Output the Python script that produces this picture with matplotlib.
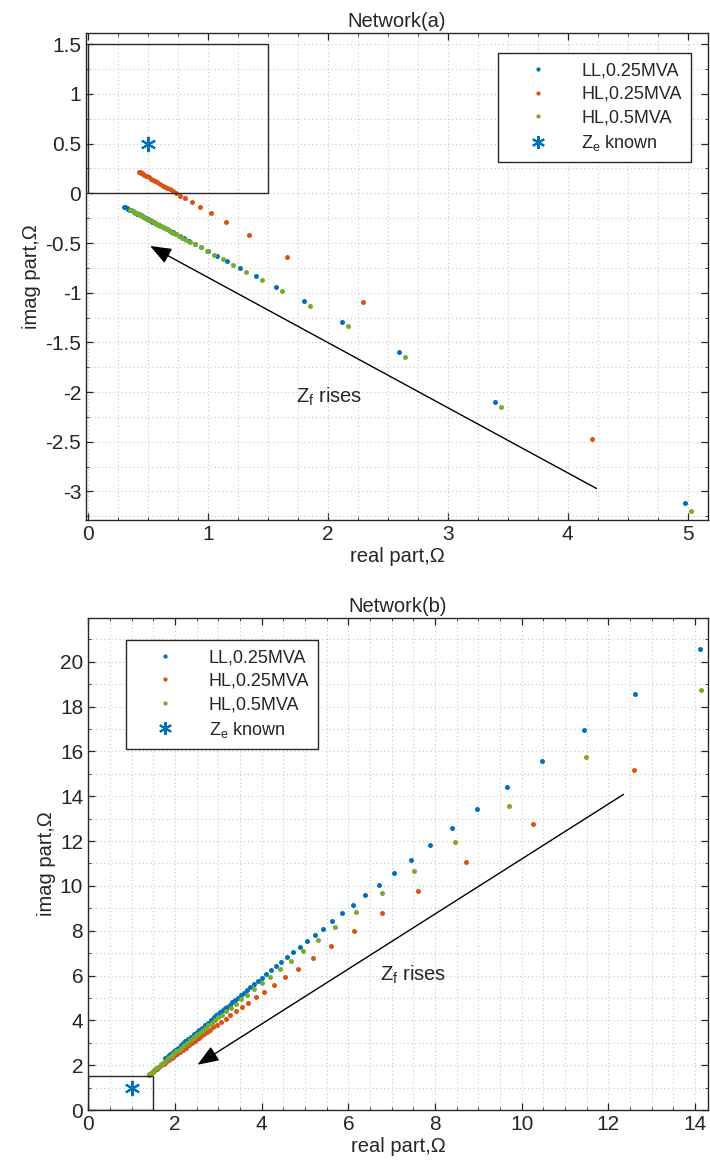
import matplotlib
matplotlib.use("Agg")
import matplotlib.pyplot as plt
from matplotlib.patches import Rectangle, FancyArrowPatch
from matplotlib.ticker import MultipleLocator, FuncFormatter

plt.rcParams['font.family'] = ['Liberation Sans', 'DejaVu Sans']
plt.rcParams['axes.unicode_minus'] = False
plt.rcParams['mathtext.fontset'] = 'custom'
plt.rcParams['mathtext.rm'] = 'Liberation Sans'
plt.rcParams['mathtext.it'] = 'Liberation Sans'

########################################################################################################################
# Network(a) impedance estimates
########################################################################################################################
a_ll25_re = [4.980, 3.390, 2.595, 2.118, 1.800, 1.573, 1.403, 1.270, 1.164, 1.077, 1.005, 0.944, 0.891, 0.846,
             0.806, 0.771, 0.740, 0.712, 0.687, 0.664, 0.644, 0.625, 0.608, 0.592, 0.577, 0.563, 0.551, 0.539,
             0.528, 0.518, 0.508, 0.499, 0.483, 0.468, 0.455, 0.443, 0.427, 0.413, 0.401, 0.387, 0.374, 0.361,
             0.348, 0.336, 0.324, 0.313, 0.304]
a_ll25_im = [-3.113, -2.100, -1.594, -1.290, -1.087, -0.943, -0.834, -0.750, -0.682, -0.627, -0.581, -0.542,
             -0.508, -0.480, -0.454, -0.432, -0.412, -0.394, -0.378, -0.364, -0.351, -0.339, -0.328, -0.318,
             -0.308, -0.300, -0.292, -0.284, -0.277, -0.271, -0.265, -0.259, -0.249, -0.239, -0.231, -0.223,
             -0.213, -0.204, -0.196, -0.188, -0.179, -0.171, -0.163, -0.155, -0.147, -0.140, -0.134]

a_hl25_re = [4.200, 2.295, 1.660, 1.343, 1.152, 1.025, 0.934, 0.866, 0.813, 0.771, 0.736, 0.708, 0.683, 0.662,
             0.644, 0.628, 0.602, 0.581, 0.563, 0.542, 0.526, 0.509, 0.496, 0.483, 0.471, 0.461, 0.450, 0.441,
             0.432, 0.428]
a_hl25_im = [-2.470, -1.090, -0.645, -0.423, -0.289, -0.201, -0.137, -0.089, -0.052, -0.023, 0.002, 0.021,
             0.039, 0.054, 0.066, 0.077, 0.096, 0.110, 0.123, 0.138, 0.149, 0.161, 0.170, 0.179, 0.187, 0.194,
             0.202, 0.208, 0.215, 0.217]

a_hl50_re = [5.030, 3.440, 2.645, 2.168, 1.850, 1.623, 1.453, 1.320, 1.214, 1.127, 1.055, 0.994, 0.941, 0.896,
             0.856, 0.821, 0.790, 0.762, 0.737, 0.714, 0.694, 0.675, 0.658, 0.642, 0.627, 0.613, 0.601, 0.589,
             0.578, 0.568, 0.558, 0.549, 0.533, 0.518, 0.505, 0.493, 0.477, 0.463, 0.451, 0.437, 0.424, 0.411,
             0.398, 0.386, 0.374, 0.363, 0.354]
a_hl50_im = [-3.200, -2.154, -1.642, -1.335, -1.130, -0.984, -0.874, -0.788, -0.720, -0.664, -0.618, -0.578,
             -0.544, -0.515, -0.490, -0.467, -0.447, -0.429, -0.413, -0.398, -0.385, -0.373, -0.362, -0.352,
             -0.342, -0.333, -0.325, -0.318, -0.311, -0.304, -0.298, -0.292, -0.282, -0.272, -0.264, -0.256,
             -0.246, -0.237, -0.229, -0.220, -0.211, -0.203, -0.195, -0.187, -0.179, -0.172, -0.166]

a_ze = [0.5, 0.5]

########################################################################################################################
# Network(b) impedance estimates
########################################################################################################################
b_ll25_re = [14.105, 12.624, 11.440, 10.471, 9.663, 8.980, 8.394, 7.887, 7.443, 7.051, 6.702, 6.391, 6.110,
             5.856, 5.625, 5.415, 5.222, 5.044, 4.880, 4.728, 4.587, 4.456, 4.333, 4.219, 4.111, 4.010, 3.915,
             3.826, 3.741, 3.661, 3.585, 3.513, 3.445, 3.380, 3.318, 3.259, 3.203, 3.149, 3.097, 3.048, 3.001,
             2.956, 2.912, 2.870, 2.830, 2.754, 2.684, 2.618, 2.557, 2.499, 2.446, 2.371, 2.303, 2.240, 2.183,
             2.129, 2.064, 2.005, 1.951, 1.890, 1.835, 1.776]
b_ll25_im = [20.56, 18.57, 16.94, 15.58, 14.42, 13.44, 12.58, 11.83, 11.17, 10.59, 10.06, 9.59, 9.16, 8.77,
             8.42, 8.09, 7.79, 7.52, 7.26, 7.03, 6.81, 6.60, 6.41, 6.23, 6.06, 5.90, 5.75, 5.61, 5.47, 5.35,
             5.22, 5.11, 5.00, 4.90, 4.80, 4.70, 4.61, 4.53, 4.44, 4.37, 4.29, 4.22, 4.15, 4.08, 4.02, 3.89,
             3.78, 3.67, 3.58, 3.48, 3.40, 3.27, 3.16, 3.06, 2.97, 2.88, 2.78, 2.68, 2.59, 2.49, 2.40, 2.30]

b_hl25_re = [12.585, 10.258, 8.707, 7.599, 6.768, 6.121, 5.604, 5.181, 4.828, 4.530, 4.274, 4.053, 3.859,
             3.688, 3.536, 3.399, 3.277, 3.166, 3.065, 2.973, 2.889, 2.812, 2.740, 2.674, 2.612, 2.555, 2.501,
             2.451, 2.404, 2.319, 2.243, 2.175, 2.114, 2.058, 1.984, 1.920, 1.863, 1.796, 1.739, 1.689, 1.634,
             1.588, 1.539, 1.491, 1.445, 1.402]
b_hl25_im = [15.16, 12.78, 11.06, 9.77, 8.77, 7.97, 7.31, 6.77, 6.31, 5.92, 5.58, 5.28, 5.02, 4.79, 4.58,
             4.40, 4.23, 4.08, 3.94, 3.81, 3.69, 3.58, 3.48, 3.39, 3.30, 3.22, 3.15, 3.08, 3.01, 2.89, 2.78,
             2.69, 2.60, 2.52, 2.41, 2.32, 2.24, 2.14, 2.06, 1.99, 1.91, 1.84, 1.77, 1.70, 1.64, 1.57]

b_hl50_re = [14.130, 11.480, 9.713, 8.451, 7.505, 6.769, 6.180, 5.698, 5.297, 4.957, 4.666, 4.413, 4.193,
             3.998, 3.824, 3.669, 3.530, 3.404, 3.289, 3.184, 3.088, 3.000, 2.918, 2.843, 2.773, 2.708, 2.647,
             2.590, 2.536, 2.486, 2.439, 2.394, 2.352, 2.275, 2.205, 2.142, 2.085, 2.032, 1.962, 1.899, 1.844,
             1.778, 1.721, 1.671, 1.616, 1.568, 1.526, 1.482, 1.438, 1.395]
b_hl50_im = [18.73, 15.73, 13.57, 11.94, 10.67, 9.66, 8.84, 8.15, 7.57, 7.08, 6.65, 6.27, 5.94, 5.65, 5.39,
             5.15, 4.94, 4.75, 4.57, 4.41, 4.26, 4.13, 4.00, 3.88, 3.77, 3.67, 3.58, 3.49, 3.40, 3.33, 3.25,
             3.18, 3.11, 2.99, 2.88, 2.78, 2.69, 2.61, 2.50, 2.40, 2.31, 2.20, 2.11, 2.03, 1.94, 1.87, 1.80,
             1.73, 1.66, 1.59]

b_ze = [1.0, 1.0]

labels = ["LL,0.25MVA", "HL,0.25MVA", "HL,0.5MVA", r"Z$_\mathregular{e}$ known"]
c_blue = "#0072BD"
c_orange = "#D95319"
c_green = "#77AC30"
dark = "#262626"

fig = plt.figure(figsize=(7.10, 11.74), dpi=100)


def style_axes(ax, xmaj, xmin, ymaj, ymin):
    ax.xaxis.set_major_locator(MultipleLocator(xmaj))
    ax.xaxis.set_minor_locator(MultipleLocator(xmin))
    ax.yaxis.set_major_locator(MultipleLocator(ymaj))
    ax.yaxis.set_minor_locator(MultipleLocator(ymin))
    fmt = FuncFormatter(lambda v, p: "%g" % round(v, 6))
    ax.xaxis.set_major_formatter(fmt)
    ax.yaxis.set_major_formatter(fmt)
    ax.grid(True, which="both", color="#c8c8c8", linestyle=(0, (1, 2.5)), linewidth=0.8)
    ax.set_axisbelow(True)
    ax.tick_params(which="both", direction="in", top=True, right=True, colors=dark, labelsize=15)
    ax.tick_params(which="major", length=5, width=0.9)
    ax.tick_params(which="minor", length=2, width=0.6)
    for s in ax.spines.values():
        s.set_color(dark)
        s.set_linewidth(1.0)
    ax.set_xlabel("real part,\u03A9", fontsize=14.5, color=dark, labelpad=2)
    ax.set_ylabel("imag part,\u03A9", fontsize=14.5, color=dark, labelpad=3)


def draw_series(ax, ll_re, ll_im, hl25_re, hl25_im, hl50_re, hl50_im, ze):
    h1, = ax.plot(ll_re, ll_im, linestyle="none", marker="o", ms=3.6, mew=0, color=c_blue)
    h2, = ax.plot(hl25_re, hl25_im, linestyle="none", marker="o", ms=3.6, mew=0, color=c_orange)
    h3, = ax.plot(hl50_re, hl50_im, linestyle="none", marker="o", ms=3.6, mew=0, color=c_green)
    h4, = ax.plot(ze[0], ze[1], linestyle="none", marker=(6, 2, 0), ms=11, mew=1.5, color=c_blue)
    return [h1, h2, h3, h4]


def draw_legend(ax, handles, anchor, loc):
    leg = ax.legend(handles, labels, loc=loc, bbox_to_anchor=anchor, bbox_transform=fig.transFigure,
                    borderaxespad=0, fontsize=13, frameon=True, fancybox=False, framealpha=1,
                    edgecolor=dark, handlelength=3.4, handletextpad=0.7, labelspacing=0.36,
                    borderpad=0.5, numpoints=1, markerscale=0.85)
    leg.get_frame().set_linewidth(1.0)
    for t in leg.get_texts():
        t.set_color(dark)


# ---- Network(a)
ax1 = fig.add_axes([86 / 710, 1 - 520 / 1174, 622 / 710, 487 / 1174])
style_axes(ax1, 1, 0.25, 0.5, 0.25)
ax1.set_xlim(-0.014, 5.169)
ax1.set_ylim(-3.287, 1.613)
ax1.add_patch(Rectangle((0, 0), 1.5, 1.5, fill=False, edgecolor=dark, linewidth=1.0, zorder=3))
hs = draw_series(ax1, a_ll25_re, a_ll25_im, a_hl25_re, a_hl25_im, a_hl50_re, a_hl50_im, a_ze)
ax1.add_patch(FancyArrowPatch((4.24, -2.97), (0.52, -0.53), arrowstyle="-|>,head_length=1.3,head_width=0.5",
                              mutation_scale=10, color="k", linewidth=1.0, shrinkA=0, shrinkB=0, zorder=4))
ax1.text(1.74, -2.05, r"Z$_\mathregular{f}$ rises", fontsize=14.5, color=dark, va="center", ha="left")
ax1.set_title("Network(a)", fontsize=14.5, color=dark, pad=4)
draw_legend(ax1, hs, (690.7 / 710, 1 - 53.3 / 1174), "upper right")

# ---- Network(b)
ax2 = fig.add_axes([88 / 710, 1 - 1110 / 1174, 620 / 710, 492 / 1174])
style_axes(ax2, 2, 0.5, 2, 1)
ax2.set_xlim(-0.007, 14.30)
ax2.set_ylim(0, 21.95)
ax2.add_patch(Rectangle((0, 0), 1.5, 1.5, fill=False, edgecolor=dark, linewidth=1.0, zorder=3))
hs = draw_series(ax2, b_ll25_re, b_ll25_im, b_hl25_re, b_hl25_im, b_hl50_re, b_hl50_im, b_ze)
ax2.add_patch(FancyArrowPatch((12.35, 14.08), (2.52, 2.02), arrowstyle="-|>,head_length=1.3,head_width=0.5",
                              mutation_scale=10, color="k", linewidth=1.0, shrinkA=0, shrinkB=0, zorder=4))
ax2.text(6.73, 6.05, r"Z$_\mathregular{f}$ rises", fontsize=14.5, color=dark, va="center", ha="left")
ax2.set_title("Network(b)", fontsize=14.5, color=dark, pad=4)
draw_legend(ax2, hs, (125.7 / 710, 1 - 640 / 1174), "upper left")

plt.savefig("out.png", dpi=100)
